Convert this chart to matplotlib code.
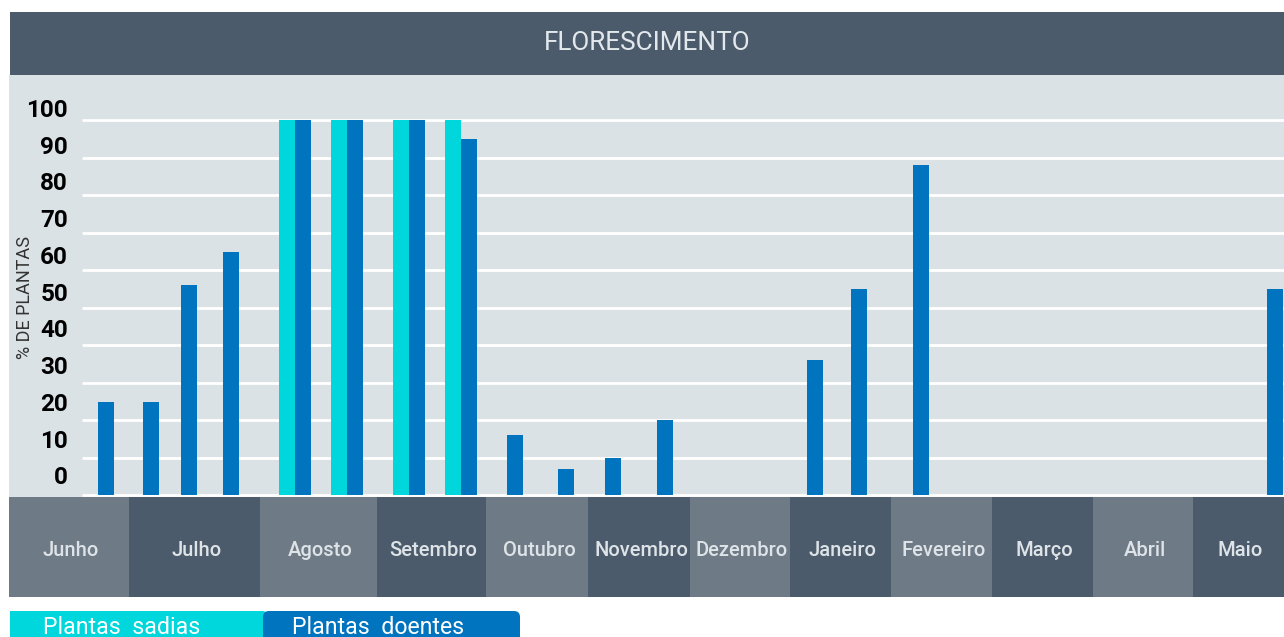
import matplotlib.pyplot as plt
from matplotlib.patches import FancyBboxPatch, Rectangle
from matplotlib.transforms import offset_copy
import numpy as np

plt.rcParams['font.family'] = ['Roboto', 'DejaVu Sans']

# dados
months = ['Junho', 'Julho', 'Agosto', 'Setembro', 'Outubro', 'Novembro',
          'Dezembro', 'Janeiro', 'Fevereiro', 'Março', 'Abril', 'Maio']
# observacao: mes (indice) + fracao do mes
obs_month = [0, 1, 1, 1, 2, 2, 3, 3, 4, 4, 5, 5, 7, 7, 8, 11]
obs_frac = [0.74, 0.11, 0.40, 0.72, 0.30, 0.74, 0.29, 0.77,
            0.21, 0.71, 0.17, 0.68, 0.17, 0.60, 0.22, 0.81]
sadias = [0, 0, 0, 0, 100, 100, 100, 100, 0, 0, 0, 0, 0, 0, 0, 0]
doentes = [25, 25, 56, 65, 100, 100, 100, 95, 16, 7, 10, 20, 36, 55, 88, 55]
yticks = [0, 10, 20, 30, 40, 50, 60, 70, 80, 90, 100]

# layout (pixels)
W, H = 1284, 637
edges_px = [9, 129, 260, 377, 486, 588, 690, 790, 891, 992, 1093, 1193, 1284]

c_dark = '#4c5b6b'
c_light = '#6f7a87'
c_bg = '#dbe2e5'
c_cyan = '#00d7dc'
c_blue = '#0074bf'
c_txt = '#dde3e7'


def fr(x0, y0, x1, y1):
    return [x0 / W, 1 - y1 / H, (x1 - x0) / W, (y1 - y0) / H]


fig = plt.figure(figsize=(W / 100, H / 100), dpi=100)

# titulo
tax = fig.add_axes(fr(10, 12, 1284, 75))
tax.set_facecolor(c_dark)
tax.set_xticks([])
tax.set_yticks([])
for s in tax.spines.values():
    s.set_visible(False)
tax.text(0.5, 0.5, 'FLORESCIMENTO', color='#e2e8ec', fontsize=18.8,
         ha='center', va='center', transform=tax.transAxes)

# grafico
ax = fig.add_axes(fr(9, 75, 1284, 497))
ax.set_facecolor(c_bg)
ax.set_xlim(9, 1284)
ax.set_ylim(-0.4, 112.1)
for s in ax.spines.values():
    s.set_visible(False)
ax.set_xticks([])
ax.set_yticks([])

ax.hlines(yticks, 82, 1284, colors='white', lw=2, zorder=1)
for v in yticks:
    tr = offset_copy(ax.transData, fig=fig, x=0, y=17.5 - 0.075 * v, units='dots')
    ax.text(68, v, str(v), ha='right', va='center', fontsize=17.5,
            fontweight='bold', color='black', transform=tr)
fig.text(25 / W, 1 - 297 / H, '% DE PLANTAS', rotation=90, ha='center',
         va='center', fontsize=13, color='#333333')

xpos = np.interp(np.array(obs_month) + np.array(obs_frac),
                 np.arange(len(edges_px)), edges_px)
ax.bar(xpos - 8, sadias, width=16, color=c_cyan, zorder=2)
ax.bar(xpos + 8, doentes, width=16, color=c_blue, zorder=3)

# faixa dos meses
bax = fig.add_axes(fr(9, 497, 1284, 597))
bax.set_xlim(9, 1284)
bax.set_ylim(0, 1)
bax.axis('off')
for i, m in enumerate(months):
    col = c_light if i % 2 == 0 else c_dark
    bax.add_patch(Rectangle((edges_px[i], 0), edges_px[i + 1] - edges_px[i], 1,
                            color=col, lw=0))
    bax.text((edges_px[i] + edges_px[i + 1]) / 2 + 2, 0.47, m, color=c_txt,
             fontsize=14.5, fontweight='medium', ha='center', va='center')

# legenda
lax = fig.add_axes([0, 0, 1, 1])
lax.set_xlim(0, W)
lax.set_ylim(H, 0)
lax.axis('off')
lax.add_patch(Rectangle((10, 611), 20, 60, color=c_cyan, lw=0))
lax.add_patch(FancyBboxPatch((10, 611), 258, 60, boxstyle='round,pad=0,rounding_size=6',
                             color=c_cyan, lw=0))
lax.add_patch(FancyBboxPatch((263, 611), 257, 60, boxstyle='round,pad=0,rounding_size=6',
                             color=c_blue, lw=0))
lax.text(122, 634.5, 'Plantas  sadias', color='white', fontsize=16.7,
         ha='center', va='baseline')
lax.text(378, 634.5, 'Plantas  doentes', color='white', fontsize=16.7,
         ha='center', va='baseline')

plt.savefig('out.png', dpi=100)
